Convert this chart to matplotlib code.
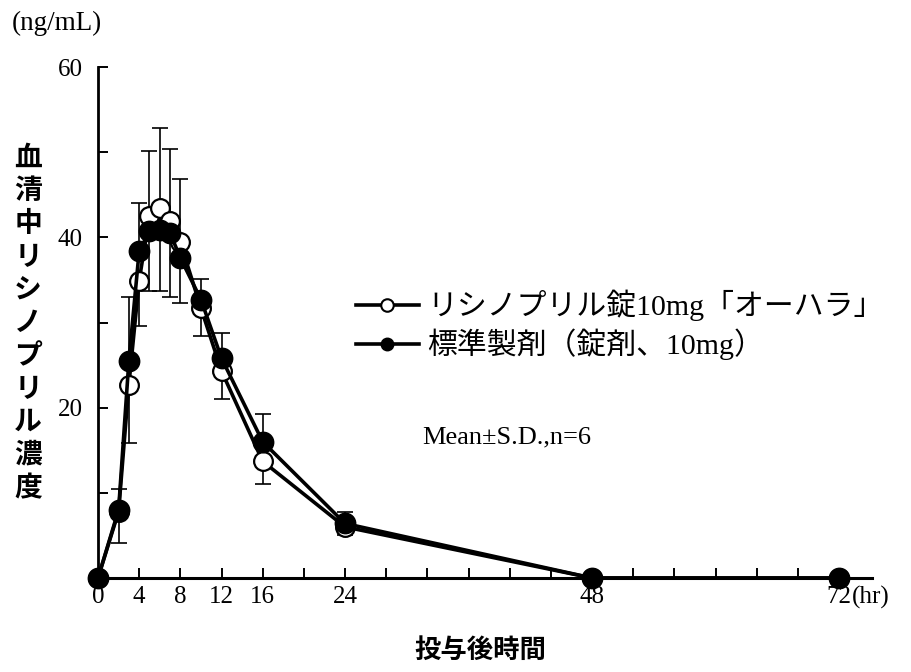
import numpy as np
import matplotlib
matplotlib.use("Agg")
import matplotlib.pyplot as plt
from matplotlib.lines import Line2D

# serum lisinopril concentration (ng/mL), mean and S.D., n=6
hours = [0, 2, 3, 4, 5, 6, 7, 8, 10, 12, 16, 24, 48, 72]
test_mean = [0, 7.8, 22.7, 34.9, 42.5, 43.5, 41.9, 39.4, 31.7, 24.3, 13.7, 6.0, 0, 0]
test_sd = [0, 3.7, 6.8, 5.3, 8.8, 9.8, 8.9, 7.1, 3.3, 3.3, 2.7, 0.9, 0, 0]
ref_mean = [0, 8.0, 25.5, 38.4, 40.7, 40.9, 40.5, 37.6, 32.7, 25.8, 16.0, 6.4, 0, 0]
ref_sd = [0, 2.5, 7.5, 5.6, 9.4, 11.9, 9.9, 9.3, 2.4, 3.0, 3.3, 1.4, 0, 0]

test_label = "リシノプリル錠10mg「オーハラ」"
ref_label = "標準製剤（錠剤、10mg）"
xticks_major = [0, 4, 8, 12, 16, 24, 48, 72]
xticks_minor = [20, 28, 32, 36, 40, 44, 52, 56, 60, 64, 68]
yticks_major = [20, 40, 60]
yticks_minor = [10, 30, 50]

FAM = ["Liberation Serif", "Noto Sans CJK JP"]
JP = ["Noto Sans CJK JP", "DejaVu Sans"]

fig = plt.figure(figsize=(9.12, 6.72), dpi=100)
W, H = 912, 672
ax = fig.add_axes([98 / W, 1 - 578 / H, (872 - 98) / W, (578 - 67) / H])

zero = np.zeros(len(hours))
# S.D. bars: test product downward, reference product upward
ax.errorbar(hours, test_mean, yerr=[test_sd, zero], fmt="none", ecolor="black",
            elinewidth=1.2, capsize=5.8, capthick=1.2, zorder=2, clip_on=False)
ax.errorbar(hours, ref_mean, yerr=[zero, ref_sd], fmt="none", ecolor="black",
            elinewidth=1.2, capsize=5.8, capthick=1.2, zorder=2, clip_on=False)

ax.plot(hours, test_mean, color="black", lw=2.6, marker="o", ms=13.5,
        mfc="white", mec="black", mew=1.6, zorder=3, clip_on=False)
ax.plot(hours, ref_mean, color="black", lw=2.6, marker="o", ms=14.5,
        mfc="black", mec="black", mew=1.2, zorder=4, clip_on=False)

ax.set_xlim(0, 75.2)
ax.set_ylim(0, 60)
ax.set_xticks(xticks_major)
ax.set_xticks(xticks_minor, minor=True)
ax.set_yticks(yticks_major)
ax.set_yticks(yticks_minor, minor=True)
ax.set_xticklabels([str(v) for v in xticks_major], family=FAM, fontsize=18)
ax.set_yticklabels([str(v) for v in yticks_major], family=FAM, fontsize=18)
ax.tick_params(axis="both", which="both", direction="in", length=7, width=1.4,
               color="black")
ax.tick_params(axis="x", pad=6)
ax.tick_params(axis="y", pad=11)

for s in ["top", "right"]:
    ax.spines[s].set_visible(False)
ax.spines["left"].set_linewidth(2.0)
ax.spines["bottom"].set_linewidth(2.2)

# unit after the last x tick label, on the same line
ax.annotate("(hr)", xy=(72, 0), xycoords="data", xytext=(9, -6),
            textcoords="offset points", ha="left", va="top",
            family=FAM, fontsize=18, annotation_clip=False)

handles = [
    Line2D([], [], color="black", lw=2.6, marker="o", ms=9, mfc="white", mec="black", mew=1.5),
    Line2D([], [], color="black", lw=2.6, marker="o", ms=9, mfc="black", mec="black"),
]
leg = fig.legend(handles, [test_label, ref_label], loc="upper left",
                 bbox_to_anchor=(356 / W, 1 - 290 / H), frameon=False,
                 prop={"family": FAM, "size": 21.5}, handlelength=2.1,
                 handletextpad=0.28, labelspacing=0.25, borderpad=0, borderaxespad=0)

fig.text(422 / W, 1 - 437 / H, "Mean±S.D.,n=6", family=FAM, fontsize=19,
         ha="left", va="center")
fig.text(12 / W, 1 - 23 / H, "(ng/mL)", family=FAM, fontsize=19.5,
         ha="left", va="center")

# vertical y-axis title, one character per line
ylabel = "血清中リシノプリル濃度"
for i, ch in enumerate(ylabel):
    fig.text(28 / W, 1 - (158 + i * 33) / H, ch, family=JP, fontsize=20,
             fontweight="bold", ha="center", va="center")

fig.text(480 / W, 1 - 650 / H, "投与後時間", family=JP, fontsize=19,
         fontweight="bold", ha="center", va="center")

fig.savefig("out.png", dpi=100)
